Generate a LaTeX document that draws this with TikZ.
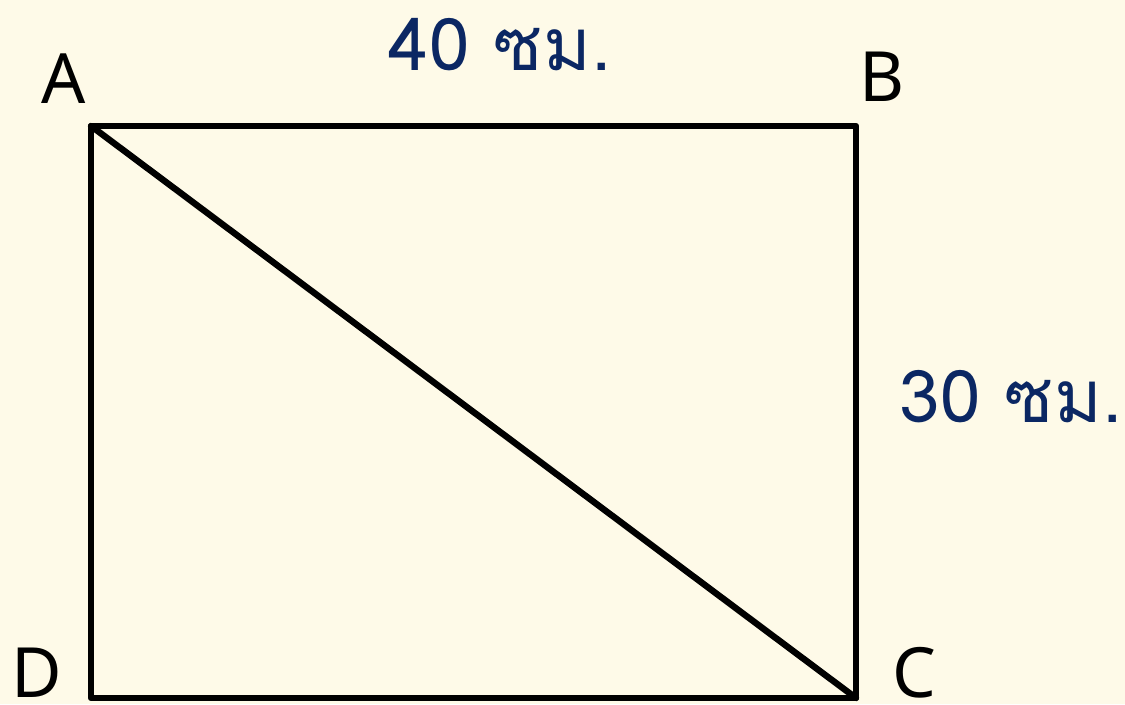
\documentclass[tikz,border=0pt]{standalone}
\usepackage{fontspec}
\setmainfont{Noto Sans}
\newfontfamily\thaifont[Script=Thai]{Loma}
\definecolor{bgcream}{HTML}{FEFAE8}
\definecolor{labelblue}{HTML}{0B2763}
\begin{document}
\begin{tikzpicture}[x=0.75pt,y=-0.75pt,
  edge/.style={line width=4.8pt,line join=round,line cap=round,black},
  vlabel/.style={font=\fontsize{52}{60}\selectfont,text=black,anchor=base,inner sep=0pt},
  dimlabel/.style={font=\thaifont\fontsize{54.5}{62}\selectfont,text=labelblue,anchor=base,inner sep=0pt}]
\fill[bgcream] (0,0) rectangle (1125,704);
\useasboundingbox (0,0) rectangle (1125,704);
\coordinate (A) at (91,126);
\coordinate (B) at (856,126);
\coordinate (C) at (856,698);
\coordinate (D) at (91,698);
\draw[edge] (A) -- (B) -- (C) -- (D) -- cycle;
\draw[edge] (A) -- (C);
\node[vlabel] (lA) at (64,103) {A};
\node[vlabel] (lB) at (882,101) {B};
\node[vlabel] (lC) at (914,697) {C};
\node[vlabel] (lD) at (37,697) {D};
\node[dimlabel] (top) at (500,70) {40 ซม.};
\node[dimlabel] (side) at (1011,422) {30 ซม.};
\end{tikzpicture}
\end{document}
